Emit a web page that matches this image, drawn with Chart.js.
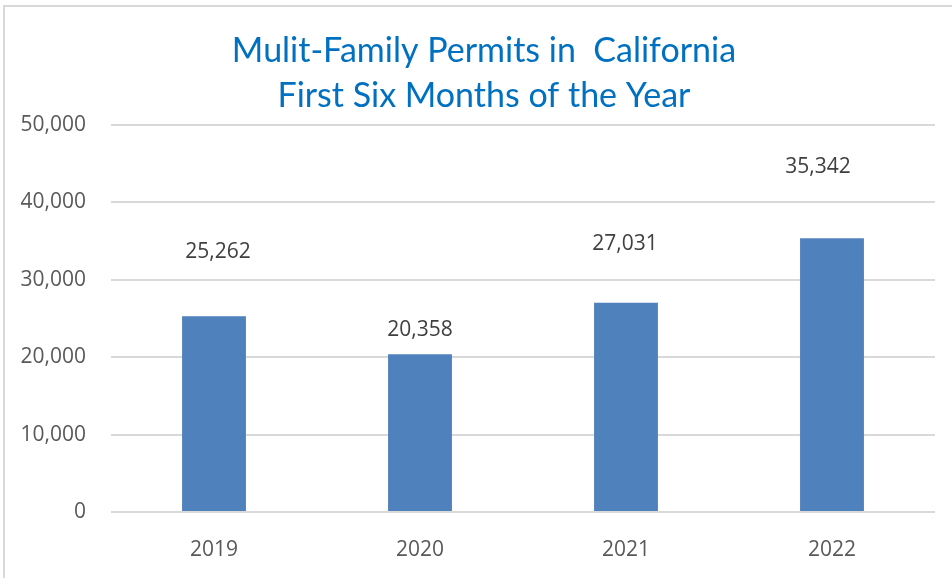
<!DOCTYPE html>
<html>
<head>
<meta charset="utf-8">
<script src="https://cdn.jsdelivr.net/npm/chart.js@4/dist/chart.umd.min.js"></script>
<style>
  html, body { margin: 0; padding: 0; background: #fff; overflow: hidden; }
  #frame { position: absolute; left: 3px; top: 5px; width: 960px; height: 600px; border: 2px solid #d9d9d9; box-sizing: border-box; }
  #chart { position: absolute; left: 0; top: 0; }
</style>
</head>
<body>
<div id="frame"></div>
<canvas id="chart" width="952" height="578"></canvas>
<script>
const years = ['2019', '2020', '2021', '2022'];
const permits = [25262, 20358, 27031, 35342];
const yTicks = [0, 10000, 20000, 30000, 40000, 50000];

// where each value label sits relative to its bar top, in px (as in the original)
const labelGap = [64, 24, 59, 71];
const labelShift = [4, 0, -1, -14];

const fmt = v => v.toLocaleString('en-US');

const valueLabels = {
  id: 'valueLabels',
  afterDatasetsDraw(chart) {
    const { ctx } = chart;
    const meta = chart.getDatasetMeta(0);
    ctx.save();
    ctx.font = '21px "Open Sans"';
    ctx.fillStyle = '#404040';
    ctx.textAlign = 'center';
    ctx.textBaseline = 'middle';
    meta.data.forEach((bar, i) => {
      ctx.fillText(fmt(permits[i]), bar.x + labelShift[i], bar.y - labelGap[i]);
    });
    ctx.restore();
  },
};

const ctx = document.getElementById('chart').getContext('2d');
new Chart(ctx, {
  type: 'bar',
  data: {
    labels: years,
    datasets: [{
      data: permits,
      backgroundColor: '#4f81bd',
      borderWidth: 0,
      categoryPercentage: 1,
      barPercentage: 0.31,
    }],
  },
  options: {
    responsive: false,
    animation: false,
    layout: { padding: { left: 16, right: 0, top: 0, bottom: 0 } },
    plugins: {
      legend: { display: false },
      tooltip: { enabled: false },
      title: {
        display: true,
        text: ['Mulit-Family Permits in  California', 'First Six Months of the Year'],
        color: '#0070c0',
        font: { family: 'Lato', size: 34, weight: 'normal', lineHeight: 1.32 },
        padding: { top: 29, bottom: 6 },
      },
    },
    scales: {
      x: {
        afterFit(scale) { scale.height = 66; },
        grid: { display: false, drawTicks: false },
        border: { display: false },
        ticks: { color: '#595959', font: { family: 'Open Sans', size: 21 }, padding: 25 },
      },
      y: {
        min: 0,
        max: 50000,
        afterFit(scale) { scale.width = 95; },
        afterBuildTicks(scale) { scale.ticks = yTicks.map(v => ({ value: v })); },
        grid: { color: '#d9d9d9', lineWidth: 2, drawTicks: false },
        border: { display: false },
        ticks: {
          color: '#595959',
          font: { family: 'Open Sans', size: 21 },
          padding: 25,
          callback: v => fmt(v),
        },
      },
      // empty right-hand gutter
      yRight: {
        position: 'right',
        afterFit(scale) { scale.width = 17; },
        grid: { display: false },
        border: { display: false },
        ticks: { display: false },
      },
    },
  },
  plugins: [valueLabels],
});
</script>
</body>
</html>
